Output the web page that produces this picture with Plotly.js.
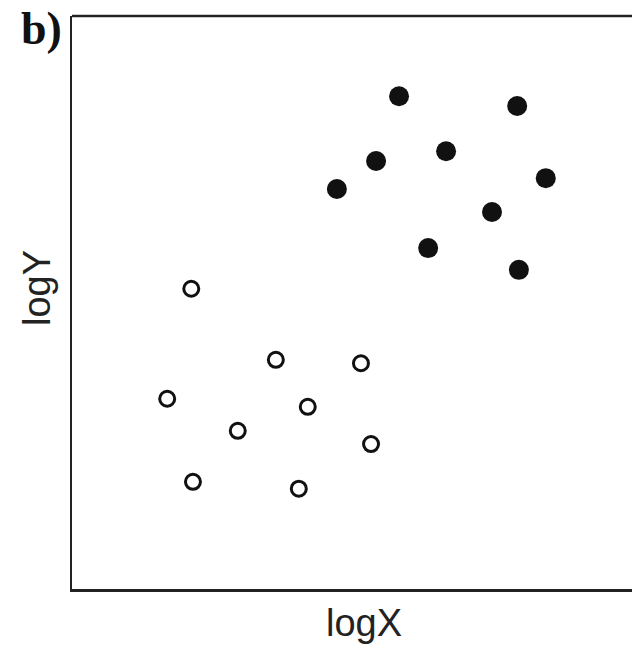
<!DOCTYPE html>
<html>
<head>
<meta charset="utf-8">
<script src="https://cdn.plot.ly/plotly-3.0.1.min.js"></script>
<style>html,body{margin:0;padding:0;background:#fff;overflow:hidden;}#chart{width:632px;height:650px;}</style>
</head>
<body>
<div id="chart"></div>
<script>
// Open circles (group 1)
const openX = [21.3, 36.4, 51.6, 17.0, 42.1, 29.6, 53.4, 21.6, 40.5];
const openY = [52.4, 40.0, 39.4, 33.2, 31.8, 27.6, 25.3, 18.7, 17.5];
// Filled circles (group 2)
const filledX = [58.4, 79.5, 54.3, 66.8, 84.6, 47.3, 75.0, 63.6, 79.8];
const filledY = [86.0, 84.3, 74.7, 76.4, 71.7, 69.8, 65.8, 59.5, 55.7];
const xTitle = "logX";
const yTitle = "logY";
const panelLabel = "b)";

const traces = [
  {x: openX, y: openY, type: "scatter", mode: "markers",
   marker: {size: 15, color: "#ffffff", line: {color: "#111111", width: 3}},
   hoverinfo: "skip", showlegend: false},
  {x: filledX, y: filledY, type: "scatter", mode: "markers",
   marker: {size: 20, color: "#111111", line: {width: 0}},
   hoverinfo: "skip", showlegend: false}
];

const axisCommon = {showgrid: false, zeroline: false, ticks: "", showticklabels: false,
  showline: true, linecolor: "#222222", linewidth: 2.5, fixedrange: true};

const titleFont = {family: "Liberation Sans, Arial, sans-serif", size: 38, color: "#222"};

const layout = {
  width: 632, height: 650,
  margin: {l: 72, r: 0, t: 16, b: 61},
  paper_bgcolor: "#ffffff", plot_bgcolor: "#ffffff",
  xaxis: Object.assign({}, axisCommon, {range: [0, 100]}),
  yaxis: Object.assign({}, axisCommon, {range: [0, 100]}),
  shapes: [{type: "line", xref: "paper", yref: "paper", x0: 0, x1: 1, y0: 1, y1: 1,
    line: {color: "#222222", width: 2.5}}],
  annotations: [
    {text: "<b>" + panelLabel + "</b>", xref: "paper", yref: "paper",
     x: 0, y: 1, xanchor: "left", yanchor: "middle", xshift: -53, yshift: -12, showarrow: false,
     font: {family: "Liberation Serif, Times New Roman, serif", size: 46, color: "#111"}},
    {text: xTitle, xref: "paper", yref: "paper", x: 0.5214, y: 0,
     xanchor: "center", yanchor: "middle", yshift: -34, showarrow: false, font: titleFont},
    {text: yTitle, xref: "paper", yref: "paper", x: 0, y: 0.5253, textangle: -90,
     xanchor: "center", yanchor: "middle", xshift: -35, showarrow: false, font: titleFont}
  ]
};

Plotly.newPlot("chart", traces, layout, {staticPlot: true, displayModeBar: false});
</script>
</body>
</html>
